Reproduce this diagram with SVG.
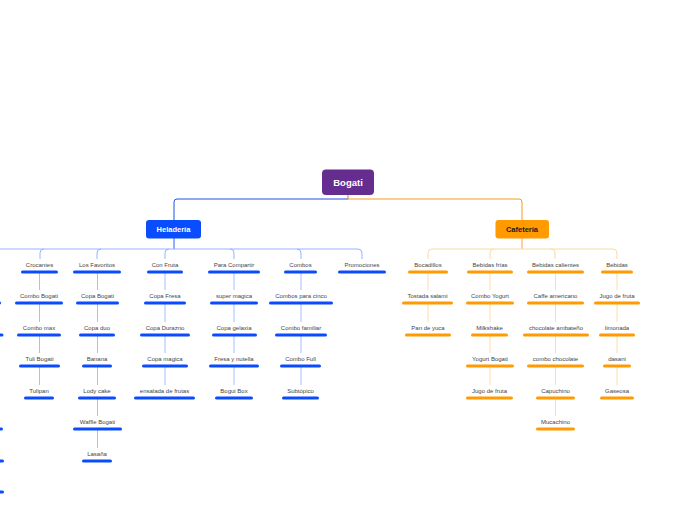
<svg xmlns="http://www.w3.org/2000/svg" width="696" height="520" viewBox="0 0 696 520">
<style>
.t{font-family:"Liberation Sans",Arial,sans-serif;font-size:6px;fill:#454545;text-anchor:middle}
.ub{stroke:#0a4bff;stroke-width:3;stroke-linecap:round}
.uo{stroke:#ff9a00;stroke-width:3;stroke-linecap:round}
.cb{fill:none;stroke:#a6bfff;stroke-width:1}
.co{fill:none;stroke:#ffdcaa;stroke-width:1}
.hb{fill:none;stroke:#94b3ff;stroke-width:1}
.ho{fill:none;stroke:#fcd9a2;stroke-width:1}
.m{font-family:"Liberation Sans",Arial,sans-serif;font-weight:bold;text-anchor:middle}
</style>
<rect width="696" height="520" fill="#ffffff"/>
<g id="connectors">
<path d="M348,195 V199" stroke="#c08a4a" fill="none"/>
<path d="M348,199 H177 Q174,199 174,202 V220" stroke="#1f52e0" fill="none"/>
<path d="M348,199 H519 Q522,199 522,202 V220" stroke="#f59a20" fill="none"/>
<path d="M174,238 V249" stroke="#2a5cff" fill="none"/>
<path class="hb" d="M0,249 H358 Q362,249 362,253 V259"/>
<path class="hb" d="M44,249 Q40,249 40,253 V259"/>
<path class="hb" d="M101,249 Q97,249 97,253 V259"/>
<path class="hb" d="M169,249 Q165,249 165,253 V259"/>
<path class="hb" d="M230,249 Q234,249 234,253 V259"/>
<path class="hb" d="M297,249 Q301,249 301,253 V259"/>
<path d="M522,238 V249" stroke="#f5a640" fill="none"/>
<path class="ho" d="M428,259 V253 Q428,249 432,249 H613 Q617,249 617,253 V259"/>
<path class="ho" d="M494,249 Q490,249 490,253 V259"/>
<path class="ho" d="M551,249 Q555,249 555,253 V259"/>
<!-- Heladeria columns -->
<path class="cb" d="M39.5,273 V290 M39.5,304 V322 M39.5,336 V353 M39.5,367 V385"/>
<path class="cb" d="M97.5,273 V290 M97.5,304 V322 M97.5,336 V353 M97.5,367 V385 M97.5,399 V416 M97.5,430 V448"/>
<path class="cb" d="M165,273 V290 M165,304 V322 M165,336 V353 M165,367 V385"/>
<path class="cb" d="M234,273 V290 M234,304 V322 M234,336 V353 M234,367 V385"/>
<path class="cb" d="M301,273 V290 M301,304 V322 M301,336 V353 M301,367 V385"/>
<!-- Cafeteria columns -->
<path class="co" d="M428,273 V290 M428,304 V322"/>
<path class="co" d="M490,273 V290 M490,304 V322 M490,336 V353 M490,367 V385"/>
<path class="co" d="M555.5,273 V290 M555.5,304 V322 M555.5,336 V353 M555.5,367 V385 M555.5,399 V416"/>
<path class="co" d="M617,273 V290 M617,304 V322 M617,336 V353 M617,367 V385"/>
</g>
<g id="bogati"><rect x="322" y="169.5" width="52" height="25.5" rx="4" fill="#662d91"/><text class="m" x="348" y="186" font-size="9.5" fill="#ffffff">Bogati</text></g>
<g id="heladeria"><rect x="146" y="220" width="55" height="18.5" rx="3" fill="#0a4dff"/><text class="m" x="173.5" y="232" font-size="7.5" fill="#ffffff">Heladería</text></g>
<g id="cafeteria"><rect x="495.5" y="220" width="53.5" height="18.5" rx="3" fill="#ff9a00"/><text class="m" x="522" y="232" font-size="7.5" fill="#1a1a1a">Cafetería</text></g>
<g id="offscreen-stubs">
<line class="ub" x1="-10" y1="303" x2="-0.5" y2="303"/>
<line class="ub" x1="-10" y1="335" x2="2" y2="335"/>
<line class="ub" x1="-10" y1="429" x2="1.5" y2="429"/>
<line class="ub" x1="-10" y1="461" x2="2.5" y2="461"/>
<line class="ub" x1="-10" y1="492" x2="2.5" y2="492"/>
</g>
<g id="crocantes"><text class="t" x="39.5" y="267">Crocantes</text><line class="ub" x1="22.5" y1="272" x2="56.5" y2="272"/></g>
<g id="combo-bogati"><text class="t" x="39" y="298">Combo Bogati</text><line class="ub" x1="16.5" y1="303" x2="61.5" y2="303"/></g>
<g id="combo-max"><text class="t" x="39" y="330">Combo max</text><line class="ub" x1="18.5" y1="335" x2="59.5" y2="335"/></g>
<g id="tuli-bogati"><text class="t" x="39.5" y="361">Tuli Bogati</text><line class="ub" x1="20.5" y1="366" x2="58.5" y2="366"/></g>
<g id="tulipan"><text class="t" x="39" y="393">Tulipan</text><line class="ub" x1="25.5" y1="398" x2="52.5" y2="398"/></g>
<g id="los-favoritos"><text class="t" x="97" y="267">Los Favoritos</text><line class="ub" x1="74.5" y1="272" x2="119.5" y2="272"/></g>
<g id="copa-bogati"><text class="t" x="97.5" y="298">Copa Bogati</text><line class="ub" x1="77.5" y1="303" x2="117.5" y2="303"/></g>
<g id="copa-duo"><text class="t" x="97" y="330">Copa duo</text><line class="ub" x1="80.5" y1="335" x2="113.5" y2="335"/></g>
<g id="banana"><text class="t" x="97" y="361">Banana</text><line class="ub" x1="83.5" y1="366" x2="110.5" y2="366"/></g>
<g id="lody-cake"><text class="t" x="97" y="393">Lody cake</text><line class="ub" x1="79.5" y1="398" x2="114.5" y2="398"/></g>
<g id="waffle-bogati"><text class="t" x="97.5" y="424">Waffle Bogati</text><line class="ub" x1="74.5" y1="429" x2="120.5" y2="429"/></g>
<g id="lasana"><text class="t" x="97" y="456">Lasaña</text><line class="ub" x1="83.5" y1="461" x2="110.5" y2="461"/></g>
<g id="con-fruta"><text class="t" x="165" y="267">Con Fruta</text><line class="ub" x1="148.5" y1="272" x2="181.5" y2="272"/></g>
<g id="copa-fresa"><text class="t" x="165" y="298">Copa Fresa</text><line class="ub" x1="145.5" y1="303" x2="184.5" y2="303"/></g>
<g id="copa-durazno"><text class="t" x="165" y="330">Copa Durazno</text><line class="ub" x1="141.5" y1="335" x2="188.5" y2="335"/></g>
<g id="copa-magica"><text class="t" x="165" y="361">Copa magica</text><line class="ub" x1="143.5" y1="366" x2="186.5" y2="366"/></g>
<g id="ensalada-de-frutas"><text class="t" x="164.5" y="393">ensalada de frutas</text><line class="ub" x1="135.5" y1="398" x2="193.5" y2="398"/></g>
<g id="para-compartir"><text class="t" x="234" y="267">Para Compartir</text><line class="ub" x1="209.5" y1="272" x2="258.5" y2="272"/></g>
<g id="super-magica"><text class="t" x="234" y="298">super magica</text><line class="ub" x1="211.5" y1="303" x2="256.5" y2="303"/></g>
<g id="copa-gelaxia"><text class="t" x="234" y="330">Copa gelaxia</text><line class="ub" x1="213.5" y1="335" x2="255.5" y2="335"/></g>
<g id="fresa-y-nutella"><text class="t" x="234" y="361">Fresa y nutella</text><line class="ub" x1="210.5" y1="366" x2="257.5" y2="366"/></g>
<g id="bogui-box"><text class="t" x="234" y="393">Bogui Box</text><line class="ub" x1="216.5" y1="398" x2="251.5" y2="398"/></g>
<g id="combos"><text class="t" x="300.5" y="267">Combos</text><line class="ub" x1="285.5" y1="272" x2="315.5" y2="272"/></g>
<g id="combos-para-cinco"><text class="t" x="301" y="298">Combos para cinco</text><line class="ub" x1="270.5" y1="303" x2="331.5" y2="303"/></g>
<g id="combo-familiar"><text class="t" x="301" y="330">Combo familiar</text><line class="ub" x1="276.5" y1="335" x2="325.5" y2="335"/></g>
<g id="combo-full"><text class="t" x="300.5" y="361">Combo Full</text><line class="ub" x1="281.5" y1="366" x2="319.5" y2="366"/></g>
<g id="subtopico"><text class="t" x="300.5" y="393">Subtópico</text><line class="ub" x1="283.5" y1="398" x2="317.5" y2="398"/></g>
<g id="promociones"><text class="t" x="362" y="267">Promociones</text><line class="ub" x1="339.5" y1="272" x2="384.5" y2="272"/></g>
<g id="bocadillos"><text class="t" x="428" y="267">Bocadillos</text><line class="uo" x1="409.5" y1="272" x2="446.5" y2="272"/></g>
<g id="tostada-salami"><text class="t" x="427.5" y="298">Tostada salami</text><line class="uo" x1="403.5" y1="303" x2="451.5" y2="303"/></g>
<g id="pan-de-yuca"><text class="t" x="428" y="330">Pan de yuca</text><line class="uo" x1="406.5" y1="335" x2="449.5" y2="335"/></g>
<g id="bebidas-frias"><text class="t" x="490" y="267">Bebidas frías</text><line class="uo" x1="468.5" y1="272" x2="511.5" y2="272"/></g>
<g id="combo-yogurt"><text class="t" x="490" y="298">Combo Yogurt</text><line class="uo" x1="467.5" y1="303" x2="512.5" y2="303"/></g>
<g id="milkshake"><text class="t" x="489.5" y="330">Milkshake</text><line class="uo" x1="472.5" y1="335" x2="506.5" y2="335"/></g>
<g id="yogurt-bogati"><text class="t" x="490" y="361">Yogurt Bogati</text><line class="uo" x1="467.5" y1="366" x2="512.5" y2="366"/></g>
<g id="jugo-de-fruta-1"><text class="t" x="489.5" y="393">Jugo de fruta</text><line class="uo" x1="467.5" y1="398" x2="511.5" y2="398"/></g>
<g id="bebidas-calientes"><text class="t" x="555.5" y="267">Bebidas calientes</text><line class="uo" x1="528.5" y1="272" x2="582.5" y2="272"/></g>
<g id="caffe-americano"><text class="t" x="555.5" y="298">Caffe americano</text><line class="uo" x1="528.5" y1="303" x2="582.5" y2="303"/></g>
<g id="chocolate-ambateno"><text class="t" x="556" y="330">chocolate ambateño</text><line class="uo" x1="524.5" y1="335" x2="587.5" y2="335"/></g>
<g id="combo-chocolate"><text class="t" x="555.5" y="361">combo chocolate</text><line class="uo" x1="528.5" y1="366" x2="582.5" y2="366"/></g>
<g id="capuchino"><text class="t" x="555.5" y="393">Capuchino</text><line class="uo" x1="537.5" y1="398" x2="573.5" y2="398"/></g>
<g id="mucachino"><text class="t" x="555.5" y="424">Mucachino</text><line class="uo" x1="537.5" y1="429" x2="573.5" y2="429"/></g>
<g id="bebidas"><text class="t" x="617" y="267">Bebidas</text><line class="uo" x1="602.5" y1="272" x2="631.5" y2="272"/></g>
<g id="jugo-de-fruta-2"><text class="t" x="617" y="298">Jugo de fruta</text><line class="uo" x1="595.5" y1="303" x2="638.5" y2="303"/></g>
<g id="limonada"><text class="t" x="617" y="330">limonada</text><line class="uo" x1="600.5" y1="335" x2="633.5" y2="335"/></g>
<g id="dasani"><text class="t" x="617" y="361">dasani</text><line class="uo" x1="604.5" y1="366" x2="629.5" y2="366"/></g>
<g id="gaseosa"><text class="t" x="617" y="393">Gaseosa</text><line class="uo" x1="601.5" y1="398" x2="632.5" y2="398"/></g>
</svg>
